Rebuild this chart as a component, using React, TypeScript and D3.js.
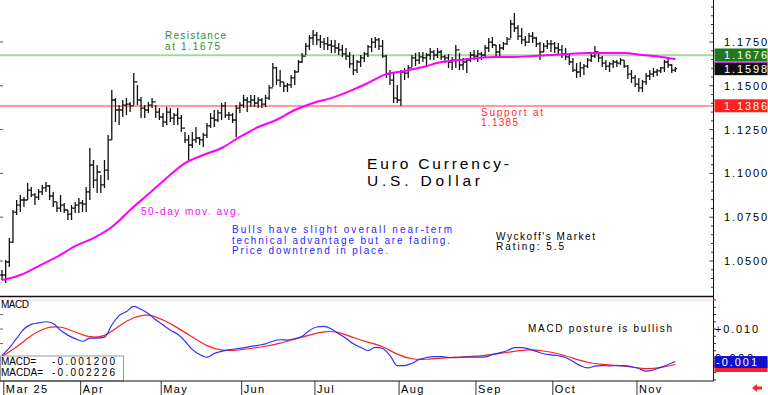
import React from 'react';
import * as d3 from 'd3';

// daily bars, Mar 3 .. mid Nov
const highs = [
  1.0448, 1.0505, 1.0631, 1.0791, 1.0848, 1.0877, 1.0865, 1.0945, 1.0922, 1.0888,
  1.0911, 1.0934, 1.0951, 1.0934, 1.0894, 1.0837, 1.0877, 1.0831, 1.0791, 1.0819,
  1.0837, 1.0859, 1.0848, 1.0922, 1.1145, 1.1076, 1.1048, 1.0991, 1.1076, 1.1219,
  1.1476, 1.1430, 1.1390, 1.1419, 1.1430, 1.1408, 1.1573, 1.1505, 1.1436, 1.1390,
  1.1408, 1.1430, 1.1390, 1.1373, 1.1345, 1.1379, 1.1373, 1.1345, 1.1373, 1.1333,
  1.1236, 1.1219, 1.1236, 1.1265, 1.1208, 1.1231, 1.1288, 1.1345, 1.1362, 1.1362,
  1.1402, 1.1408, 1.1350, 1.1345, 1.1390, 1.1408, 1.1448, 1.1436, 1.1448, 1.1448,
  1.1436, 1.1430, 1.1448, 1.1505, 1.1630, 1.1607, 1.1590, 1.1522, 1.1516, 1.1562,
  1.1590, 1.1647, 1.1687, 1.1745, 1.1790, 1.1819, 1.1807, 1.1790, 1.1773, 1.1779,
  1.1762, 1.1762, 1.1745, 1.1733, 1.1716, 1.1693, 1.1676, 1.1647, 1.1676, 1.1693,
  1.1733, 1.1773, 1.1779, 1.1773, 1.1762, 1.1676, 1.1590, 1.1573, 1.1505, 1.1590,
  1.1602, 1.1619, 1.1676, 1.1687, 1.1693, 1.1693, 1.1687, 1.1716, 1.1705, 1.1716,
  1.1705, 1.1676, 1.1682, 1.1665, 1.1733, 1.1687, 1.1659, 1.1659, 1.1693, 1.1705,
  1.1705, 1.1693, 1.1733, 1.1773, 1.1779, 1.1733, 1.1739, 1.1750, 1.1779, 1.1876,
  1.1916, 1.1847, 1.1830, 1.1784, 1.1802, 1.1807, 1.1779, 1.1750, 1.1745, 1.1762,
  1.1762, 1.1750, 1.1745, 1.1733, 1.1716, 1.1676, 1.1659, 1.1630, 1.1636, 1.1625,
  1.1659, 1.1682, 1.1727, 1.1693, 1.1670, 1.1647, 1.1636, 1.1647, 1.1647, 1.1659,
  1.1647, 1.1619, 1.1590, 1.1562, 1.1545, 1.1533, 1.1573, 1.1590, 1.1602, 1.1596,
  1.1607, 1.1647, 1.1659, 1.1625, 1.1607,
];

const lows = [
  1.0391, 1.0374, 1.0465, 1.0603, 1.0762, 1.0779, 1.0808, 1.0848, 1.0865, 1.0819,
  1.0848, 1.0877, 1.0894, 1.0848, 1.0808, 1.0779, 1.0779, 1.0774, 1.0734, 1.0734,
  1.0774, 1.0774, 1.0779, 1.0779, 1.0848, 1.0917, 1.0888, 1.0888, 1.0917, 1.0962,
  1.1191, 1.1293, 1.1276, 1.1322, 1.1333, 1.1350, 1.1390, 1.1390, 1.1316, 1.1316,
  1.1345, 1.1373, 1.1316, 1.1305, 1.1265, 1.1276, 1.1293, 1.1276, 1.1276, 1.1236,
  1.1173, 1.1076, 1.1145, 1.1173, 1.1162, 1.1151, 1.1202, 1.1259, 1.1265, 1.1293,
  1.1305, 1.1316, 1.1305, 1.1288, 1.1208, 1.1345, 1.1373, 1.1350, 1.1379, 1.1379,
  1.1373, 1.1373, 1.1379, 1.1419, 1.1493, 1.1505, 1.1493, 1.1465, 1.1465, 1.1488,
  1.1505, 1.1579, 1.1630, 1.1676, 1.1705, 1.1733, 1.1733, 1.1716, 1.1705, 1.1705,
  1.1687, 1.1687, 1.1676, 1.1665, 1.1647, 1.1602, 1.1562, 1.1573, 1.1607, 1.1636,
  1.1665, 1.1693, 1.1716, 1.1705, 1.1659, 1.1545, 1.1505, 1.1402, 1.1402, 1.1385,
  1.1533, 1.1545, 1.1607, 1.1613, 1.1625, 1.1636, 1.1619, 1.1647, 1.1647, 1.1659,
  1.1647, 1.1630, 1.1602, 1.1590, 1.1602, 1.1590, 1.1590, 1.1573, 1.1636, 1.1647,
  1.1636, 1.1647, 1.1665, 1.1693, 1.1716, 1.1665, 1.1670, 1.1705, 1.1733, 1.1773,
  1.1807, 1.1762, 1.1739, 1.1727, 1.1745, 1.1745, 1.1722, 1.1647, 1.1693, 1.1710,
  1.1693, 1.1687, 1.1676, 1.1659, 1.1647, 1.1619, 1.1579, 1.1545, 1.1550, 1.1562,
  1.1602, 1.1636, 1.1659, 1.1636, 1.1607, 1.1590, 1.1579, 1.1602, 1.1607, 1.1619,
  1.1602, 1.1539, 1.1516, 1.1493, 1.1465, 1.1465, 1.1505, 1.1533, 1.1550, 1.1556,
  1.1573, 1.1579, 1.1602, 1.1573, 1.1579,
];

const closes = [
  1.0420, 1.0494, 1.0608, 1.0779, 1.0819, 1.0848, 1.0848, 1.0905, 1.0877, 1.0865,
  1.0894, 1.0917, 1.0928, 1.0871, 1.0837, 1.0802, 1.0819, 1.0791, 1.0768, 1.0802,
  1.0819, 1.0831, 1.0825, 1.0894, 1.1048, 1.0962, 1.1008, 1.0934, 1.1019, 1.1191,
  1.1419, 1.1362, 1.1362, 1.1390, 1.1396, 1.1385, 1.1522, 1.1419, 1.1373, 1.1362,
  1.1390, 1.1408, 1.1350, 1.1322, 1.1293, 1.1350, 1.1316, 1.1333, 1.1316, 1.1259,
  1.1191, 1.1162, 1.1191, 1.1202, 1.1191, 1.1219, 1.1271, 1.1316, 1.1305, 1.1345,
  1.1385, 1.1333, 1.1333, 1.1305, 1.1373, 1.1390, 1.1419, 1.1408, 1.1419, 1.1402,
  1.1419, 1.1396, 1.1430, 1.1488, 1.1602, 1.1533, 1.1522, 1.1499, 1.1505, 1.1545,
  1.1579, 1.1636, 1.1670, 1.1727, 1.1773, 1.1790, 1.1762, 1.1750, 1.1739, 1.1733,
  1.1727, 1.1716, 1.1705, 1.1682, 1.1670, 1.1625, 1.1590, 1.1636, 1.1659, 1.1682,
  1.1722, 1.1750, 1.1762, 1.1727, 1.1670, 1.1567, 1.1533, 1.1430, 1.1419, 1.1579,
  1.1573, 1.1602, 1.1659, 1.1647, 1.1665, 1.1659, 1.1676, 1.1693, 1.1676, 1.1693,
  1.1665, 1.1659, 1.1636, 1.1647, 1.1705, 1.1619, 1.1636, 1.1647, 1.1676, 1.1670,
  1.1682, 1.1676, 1.1716, 1.1750, 1.1733, 1.1693, 1.1716, 1.1739, 1.1767, 1.1853,
  1.1830, 1.1784, 1.1762, 1.1750, 1.1784, 1.1773, 1.1739, 1.1693, 1.1727, 1.1739,
  1.1739, 1.1716, 1.1705, 1.1682, 1.1665, 1.1636, 1.1590, 1.1579, 1.1602, 1.1613,
  1.1647, 1.1670, 1.1693, 1.1659, 1.1630, 1.1613, 1.1625, 1.1636, 1.1630, 1.1647,
  1.1613, 1.1567, 1.1545, 1.1510, 1.1488, 1.1522, 1.1556, 1.1567, 1.1579, 1.1585,
  1.1602, 1.1636, 1.1619, 1.1590, 1.1598,
];

// 50-day moving average, read every 5th bar
const maBars = [0, 5, 10, 15, 20, 25, 30, 35, 40, 45, 50, 55, 60, 65, 70, 75, 80, 85, 90,
  95, 100, 105, 110, 115, 120, 125, 130, 135, 140, 145, 150, 155, 160, 165, 170, 175, 180, 184];
const maValues = [
  1.0391, 1.0420, 1.0471, 1.0523, 1.0585, 1.0631, 1.0694, 1.0791, 1.0882, 1.0974,
  1.1059, 1.1105, 1.1145, 1.1208, 1.1265, 1.1305, 1.1362, 1.1402, 1.1430, 1.1470,
  1.1516, 1.1567, 1.1585, 1.1607, 1.1636, 1.1647, 1.1659, 1.1665, 1.1665, 1.1670,
  1.1676, 1.1682, 1.1687, 1.1687, 1.1687, 1.1676, 1.1665, 1.1653,
];

// MACD read every 2nd bar, signal (MACDA) every 4th bar
const macdValues = [
  0.0009, 0.0035, 0.0068, 0.0100, 0.0116, 0.0121, 0.0125, 0.0119, 0.0096, 0.0079,
  0.0067, 0.0058, 0.0069, 0.0069, 0.0072, 0.0114, 0.0146, 0.0160, 0.0178, 0.0168,
  0.0153, 0.0132, 0.0114, 0.0096, 0.0082, 0.0058, 0.0030, 0.0012, 0.0003, 0.0016,
  0.0023, 0.0028, 0.0032, 0.0035, 0.0040, 0.0044, 0.0049, 0.0058, 0.0063, 0.0062,
  0.0067, 0.0075, 0.0095, 0.0107, 0.0109, 0.0100, 0.0084, 0.0068, 0.0049, 0.0037,
  0.0026, 0.0037, 0.0033, 0.0009, -0.0026, -0.0026, -0.0018, -0.0005, 0.0002, 0.0005,
  0.0005, 0.0002, 0.0001, 0.0003, 0.0003, 0.0003, 0.0004, 0.0012, 0.0018, 0.0025,
  0.0036, 0.0036, 0.0031, 0.0023, 0.0015, 0.0011, 0.0008, 0.0002, -0.0012, -0.0026,
  -0.0034, -0.0028, -0.0026, -0.0027, -0.0026, -0.0026, -0.0030, -0.0036, -0.0045, -0.0041,
  -0.0032, -0.0022, -0.0012,
];
const signalValues = [
  0.0005, 0.0037, 0.0079, 0.0107, 0.0110, 0.0090, 0.0070, 0.0072, 0.0112, 0.0142,
  0.0153, 0.0132, 0.0105, 0.0072, 0.0040, 0.0026, 0.0026, 0.0033, 0.0040, 0.0051,
  0.0065, 0.0079, 0.0093, 0.0091, 0.0070, 0.0054, 0.0042, 0.0011, -0.0005, -0.0005,
  0.0000, 0.0004, 0.0005, 0.0009, 0.0016, 0.0023, 0.0030, 0.0025, 0.0016, 0.0000,
  -0.0016, -0.0022, -0.0025, -0.0030, -0.0039, -0.0033, -0.0022,
];

const priceTicks = [1.05, 1.075, 1.1, 1.125, 1.15, 1.175];
const macdTickLabels = [0.01, 0.0];
const monthLabels = ['Mar 25', 'Apr', 'May', 'Jun', 'Jul', 'Aug', 'Sep', 'Oct', 'Nov'];
const monthStartBar = [1, 22, 44, 66, 86, 109, 130, 151, 174];

const resistance = 1.1675;
const support = 1.1385;
const markerValues = [1.1676, 1.1598, 1.1386];
const macdNow = -0.0012;
const signalNow = -0.002226;

const bullsNote = [
  'Bulls have slight overall near-term',
  'technical advantage but are fading.',
  'Price downtrend in place.',
];

const FONT = '"Liberation Sans", Arial, sans-serif';

function T({ x, y, w, size = 10, fill = '#000', anchor, children }: any) {
  return (
    <text x={x} y={y} fontSize={size} fill={fill} fontFamily={FONT}
      textLength={w} lengthAdjust="spacing" textAnchor={anchor}>{children}</text>
  );
}

export default function App() {
  const width = 768, height = 395;
  const axisX = 713.5;

  const x = d3.scaleLinear().domain([0, 184]).range([2, 675.4]);
  const y = d3.scaleLinear().domain([1.03, 1.199]).range([296, 0]);
  const ym = d3.scaleLinear().domain([-0.0079, 0.02]).range([381, 300]);

  const opens = closes.map((c, i) => (i === 0 ? c : closes[i - 1]));

  const barPath = highs.map((h, i) => {
    const cx = x(i);
    return `M${cx},${y(h)}V${y(lows[i])}M${cx - 1.8},${y(opens[i])}H${cx}M${cx},${y(closes[i])}H${cx + 1.8}`;
  }).join('');

  const maLine = d3.line<number>()
    .x((d, i) => x(maBars[i]))
    .y(d => y(d))
    .curve(d3.curveMonotoneX);

  const macdBars = macdValues.map((_, i) => i * 2);
  const signalBars = signalValues.map((_, i) => i * 4);

  const macdLine = d3.line<number>()
    .x((d, i) => x(macdBars[i]))
    .y(d => ym(d))
    .curve(d3.curveMonotoneX);
  const signalLine = d3.line<number>()
    .x((d, i) => x(signalBars[i]))
    .y(d => ym(d))
    .curve(d3.curveBasis);

  const minorPrice = d3.range(1.035, 1.1991, 0.005);
  const minorMacd = d3.range(-0.0075, 0.0201, 0.0025);

  const markerColors = ['#1f7a1f', '#111111', '#ff2020'];

  return (
    <svg width={width} height={height} style={{ position: 'absolute', left: 0, top: 0, background: '#fff' }}>
      <rect width={width} height={height} fill="#fff" />

      {/* support / resistance */}
      <line x1={0} x2={axisX} y1={y(resistance)} y2={y(resistance)} stroke="#a9d6a0" strokeWidth={2} />
      <line x1={0} x2={axisX} y1={y(support)} y2={y(support)} stroke="#ff7a7a" strokeWidth={1.5} />

      {/* price bars */}
      <path d={barPath} stroke="#111" strokeWidth={1.3} fill="none" />

      {/* 50-day MA */}
      <path d={maLine(maValues) || ''} stroke="#ff00ff" strokeWidth={2} fill="none" />

      {/* text notes */}
      <T x={165} y={39} w={61} fill="#2e8b2e">Resistance</T>
      <T x={165} y={49.5} w={55} fill="#2e8b2e">at 1.1675</T>
      <T x={481} y={115.5} w={62} fill="#ff2a2a">Support at</T>
      <T x={481} y={126} w={37} fill="#ff2a2a">1.1385</T>
      <T x={367} y={168.5} w={142} size={15.5}>Euro Currency-</T>
      <T x={367} y={186} w={113} size={15.5}>U.S. Dollar</T>
      <T x={141} y={215} w={99} fill="#ff00ff">50-day mov. avg.</T>
      {bullsNote.map((s, i) => (
        <T key={s} x={232} y={233 + i * 10.5} w={[220, 218, 156][i]} fill="#2a2aff">{s}</T>
      ))}
      <T x={496} y={239.5} w={99}>Wyckoff's Market</T>
      <T x={496} y={250} w={68}>Rating: 5.5</T>

      {/* main panel frame */}
      <line x1={0} x2={axisX} y1={296.5} y2={296.5} stroke="#111" strokeWidth={1.6} />
      <line x1={axisX} x2={axisX} y1={0} y2={381} stroke="#111" strokeWidth={1} />
      {minorPrice.map(v => {
        const major = Math.abs(v * 1000 - Math.round(v * 40) * 25) < 0.01;
        return <line key={v} x1={axisX - (major ? 4 : 2.5)} x2={axisX} y1={y(v)} y2={y(v)} stroke="#333" />;
      })}
      {priceTicks.map(v => (
        <g key={v}>
          <line x1={0} x2={3} y1={y(v)} y2={y(v)} stroke="#555" />
          <T x={724} y={y(v) + 4} w={43} size={11}>{v.toFixed(4)}</T>
        </g>
      ))}

      {/* price markers on axis */}
      {markerValues.map((v, i) => (
        <g key={v}>
          <rect x={714.5} y={y(v) - 6.5} width={53} height={13} fill={markerColors[i]} />
          <T x={724} y={y(v) + 4} w={43} size={11} fill="#fff">{v.toFixed(4)}</T>
        </g>
      ))}
      <rect x={714.5} y={61.5} width={53} height={1.5} fill="#b040c0" />

      {/* MACD panel */}
      <line x1={0} x2={axisX} y1={ym(0.02)} y2={ym(0.02)} stroke="#ffc8c8" strokeWidth={1} />
      <path d={signalLine(signalValues) || ''} stroke="#ff2020" strokeWidth={1.2} fill="none" />
      <path d={macdLine(macdValues) || ''} stroke="#3030ff" strokeWidth={1.2} fill="none" />
      <T x={1} y={308} w={28}>MACD</T>
      <T x={528} y={332} w={144}>MACD posture is bullish</T>
      {[0.005, 0.01, 0.015].map(v => (
        <line key={v} x1={0} x2={3} y1={ym(v)} y2={ym(v)} stroke="#666" />
      ))}
      {minorMacd.map(v => (
        <line key={v} x1={axisX} x2={axisX + 2.5} y1={ym(v)} y2={ym(v)} stroke="#333" />
      ))}
      {macdTickLabels.map(v => (
        <T key={v} x={715} y={ym(v) + 4} w={v > 0 ? 43 : 38} size={11}>
          {v > 0 ? '+' + v.toFixed(3) : v.toFixed(3)}
        </T>
      ))}
      <rect x={714.5} y={ym(signalNow) - 4.5} width={53} height={12} fill="#ff2020" />
      <rect x={714.5} y={ym(macdNow) - 5.5} width={53} height={12} fill="#1010d0" />
      <T x={716} y={ym(macdNow) + 4.5} w={41} size={11} fill="#fff">{macdNow.toFixed(3)}</T>

      <rect x={0.5} y={356} width={123} height={25} fill="#fff" stroke="#9a9a9a" />
      <T x={1} y={365} w={35}>MACD=</T>
      <T x={52} y={365} w={63}>{macdNow.toFixed(6)}</T>
      <T x={1} y={376} w={42}>MACDA=</T>
      <T x={52} y={376} w={63}>{signalNow.toFixed(6)}</T>

      <line x1={0} x2={axisX} y1={381} y2={381} stroke="#111" strokeWidth={1.2} />

      {/* months */}
      {monthLabels.map((m, i) => {
        const tx = x(monthStartBar[i] - 0.5);
        return (
          <g key={m}>
            <line x1={tx} x2={tx} y1={381} y2={395} stroke="#333" />
            <text x={tx + 2} y={392.5} fontSize={11} fontFamily={FONT} letterSpacing={1.4}>{m}</text>
          </g>
        );
      })}
      <path d="M752,388 L757,384 L757,386.5 L762,386.5 L762,389.5 L757,389.5 L757,392 Z" fill="#ff2020" />
    </svg>
  );
}
